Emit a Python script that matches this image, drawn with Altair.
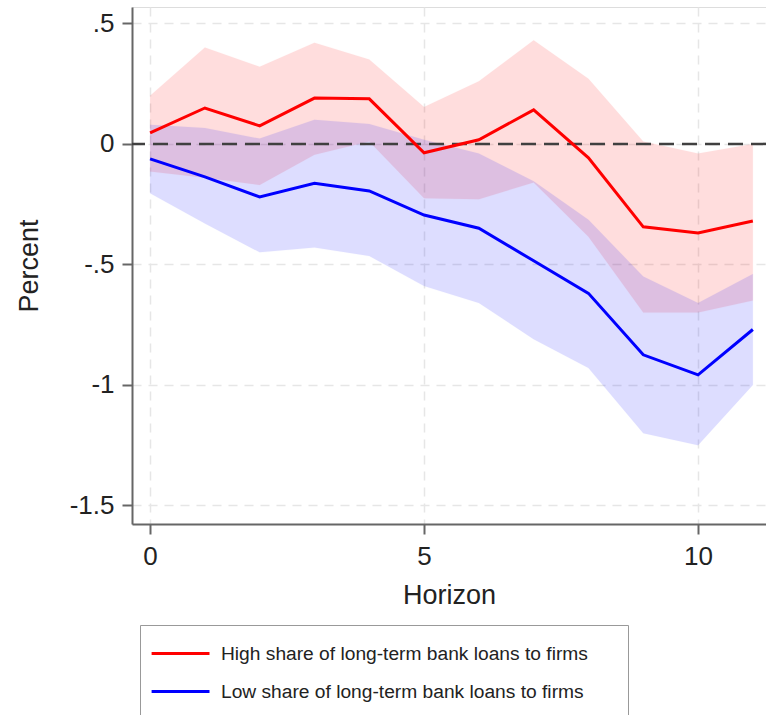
import altair as alt
import pandas as pd

horizon = list(range(12))

high_est = [0.046, 0.149, 0.075, 0.19, 0.187, -0.037, 0.017, 0.141, -0.058, -0.344, -0.37, -0.32]
high_lo = [-0.115, -0.14, -0.17, -0.045, 0.01, -0.225, -0.23, -0.16, -0.385, -0.70, -0.70, -0.65]
high_hi = [0.20, 0.40, 0.32, 0.42, 0.35, 0.153, 0.26, 0.43, 0.27, 0.01, -0.04, 0.0]

low_est = [-0.062, -0.137, -0.22, -0.163, -0.195, -0.295, -0.35, -0.485, -0.62, -0.875, -0.958, -0.77]
low_lo = [-0.205, -0.33, -0.45, -0.43, -0.465, -0.59, -0.66, -0.81, -0.93, -1.2, -1.25, -1.0]
low_hi = [0.079, 0.066, 0.022, 0.10, 0.083, 0.017, -0.04, -0.155, -0.315, -0.55, -0.66, -0.54]

series_names = [
    "High share of long-term bank loans to firms",
    "Low share of long-term bank loans to firms",
]
series_colors = ["#ff0000", "#0000ff"]

y_ticks = [0.5, 0, -0.5, -1, -1.5]
x_ticks = [0, 5, 10]

rows = []
for name, est, lo, hi in [
    (series_names[0], high_est, high_lo, high_hi),
    (series_names[1], low_est, low_lo, low_hi),
]:
    for h, m, l, u in zip(horizon, est, lo, hi):
        rows.append({"h": h, "series": name, "est": m, "lo": l, "hi": u})
df = pd.DataFrame(rows)
zero_df = pd.DataFrame({"y": [0]})

FONT = "Liberation Sans"
xscale = alt.Scale(domain=[-0.33, 11.24], nice=False, zero=False)
yscale = alt.Scale(domain=[-1.577, 0.568], nice=False, zero=False)

x_axis = alt.Axis(
    values=x_ticks, title="Horizon", format="d",
    grid=True, gridDash=[9, 7], gridColor="#e6e6e6", gridWidth=1.5,
    domainColor="#666", domainWidth=2, tickColor="#666", tickWidth=2, tickSize=10,
    labelFont=FONT, labelFontSize=26, labelColor="#222", labelPadding=9,
    titleFont=FONT, titleFontSize=27, titleFontWeight="normal", titleColor="#222", titlePadding=13,
)
y_axis = alt.Axis(
    values=y_ticks, title="Percent",
    labelExpr="replace(toString(datum.value), '0.', '.')",
    grid=True, gridDash=[9, 7], gridColor="#e6e6e6", gridWidth=1.5,
    domainColor="#666", domainWidth=2, tickColor="#666", tickWidth=2, tickSize=10,
    labelFont=FONT, labelFontSize=26, labelColor="#222", labelPadding=8,
    titleFont=FONT, titleFontSize=27, titleFontWeight="normal", titleColor="#222", titlePadding=26,
)

base = alt.Chart(df)

bands = base.mark_area(opacity=0.13, strokeOpacity=0.12, strokeWidth=1).encode(
    x=alt.X("h:Q", scale=xscale, axis=x_axis),
    y=alt.Y("lo:Q", scale=yscale, axis=y_axis),
    y2="hi:Q",
    fill=alt.Fill("series:N", scale=alt.Scale(domain=series_names, range=series_colors), legend=None),
    stroke=alt.Stroke("series:N", scale=alt.Scale(domain=series_names, range=series_colors), legend=None),
    detail="series:N",
)

zero = alt.Chart(zero_df).mark_rule(color="#404040", strokeWidth=2.5, strokeDash=[15, 8]).encode(
    y=alt.Y("y:Q", scale=yscale)
)

lines = base.mark_line(strokeWidth=3).encode(
    x=alt.X("h:Q", scale=xscale),
    y=alt.Y("est:Q", scale=yscale),
    color=alt.Color(
        "series:N",
        scale=alt.Scale(domain=series_names, range=series_colors),
        legend=alt.Legend(
            title=" ", titleOrient="right", titlePadding=26, titleFontSize=19,
            orient="none", legendX=8, legendY=618, direction="vertical",
            symbolType="M-1.3,0H3.154", symbolSize=676, symbolStrokeWidth=3,
            labelFont=FONT, labelFontSize=19.2, labelColor="#222", labelOffset=38,
            labelLimit=600,
            rowPadding=13, padding=14, strokeColor="#999", fillColor="white",
        ),
    ),
)

chart = (
    alt.layer(bands, zero, lines)
    .resolve_scale(stroke="independent", color="independent")
    .properties(
        width=634, height=517,
        autosize=alt.AutoSizeParams(type="none"),
        padding={"left": 132, "top": 7, "right": 0, "bottom": 191},
    )
    .configure_view(stroke=None)
    .configure(background="white")
)

chart.save("out.html", embed_options={"renderer": "svg", "actions": False})
